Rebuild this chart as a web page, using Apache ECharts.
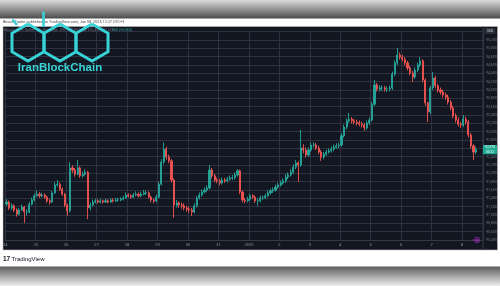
<!DOCTYPE html>
<html><head><meta charset="utf-8">
<script src="https://cdn.jsdelivr.net/npm/echarts@6/dist/echarts.min.js"></script>
<style>html,body{margin:0;padding:0;background:#fff;overflow:hidden}#c{width:500px;height:286px}</style>
</head><body><div id="c"></div>
<script>
// x tick labels (one per day, Dec 24 .. Jan 8)
const dayLabels = ['24','25','26','27','28','29','30','31','2025','2','3','4','5','6','7','8'];
const candleHours = 2; // each candle covers 2 hours
const firstOpen = 91260;
const closes = [
91310,91170,91220,91120,91020,91120,91190,91070,91070,91260,
91360,91460,91500,91460,91480,91430,91340,91310,91530,91720,
91740,91620,91500,91240,91100,92130,92080,91980,92130,91940,
91980,92030,91170,91240,91310,91340,91310,91340,91310,91340,
91310,91360,91340,91360,91360,91380,91410,91480,91460,91430,
91480,91500,91460,91500,91530,91530,91430,91360,91340,91430,
91740,92270,92580,92390,92300,91840,91240,91290,91240,91220,
91170,91140,91120,91070,91220,91410,91480,91550,91600,91650,
92080,91940,91840,91820,91770,91840,91820,91860,91890,91890,
91960,92060,91550,91360,91340,91380,91460,91430,91340,91340,
91410,91410,91460,91530,91580,91600,91670,91720,91770,91820,
91910,91960,92030,92150,92250,92200,92610,92560,92440,92560,
92680,92680,92610,92510,92390,92460,92510,92540,92580,92630,
92660,92680,92900,93110,93260,93300,93260,93230,93210,93180,
93160,93090,93210,93280,93660,94120,94020,94050,94050,94020,
94020,94050,94380,94650,94840,94790,94740,94650,94530,94410,
94310,94480,94600,94700,94240,93690,93470,94050,94290,94100,
94000,93950,93880,93830,93710,93570,93380,93280,93180,93160,
93300,93230,92920,92660,92510,92570];
const highs = [
91380,91350,91280,91260,91160,91170,91250,91220,91140,91310,
91420,91520,91580,91550,91530,91520,91460,91390,91580,91790,
91840,91780,91660,91530,91270,92270,92200,92130,92320,92170,
92040,92100,92060,91300,91370,91390,91380,91390,91370,91390,
91380,91400,91400,91410,91420,91430,91460,91540,91520,91500,
91530,91570,91540,91560,91600,91590,91570,91460,91400,91490,
91800,92340,92740,92640,92450,92340,91880,91360,91330,91300,
91280,91220,91200,91170,91280,91460,91540,91610,91660,91710,
92200,92130,91990,91900,91870,91900,91890,91920,91950,91960,
92020,92100,92090,91590,91410,91440,91510,91500,91470,91400,
91460,91470,91510,91590,91630,91660,91730,91780,91830,91880,
91980,92020,92100,92220,92320,92300,93040,92700,92620,92620,
92740,92750,92730,92660,92560,92520,92570,92600,92640,92690,
92720,92740,92960,93170,93320,93450,93350,93310,93290,93270,
93240,93210,93270,93340,93720,94240,94170,94110,94110,94100,
94090,94110,94440,94710,95010,94900,94850,94790,94700,94580,
94460,94540,94660,94790,94740,94280,93720,94100,94430,94340,
94150,94060,94010,93940,93890,93760,93620,93440,93340,93240,
93400,93360,93280,92970,92700,92640];
const lows = [
91220,91120,91120,91070,90960,90990,91100,90810,90990,91040,
91230,91330,91430,91410,91420,91390,91290,91250,91290,91500,
91680,91580,91460,91190,90980,91060,92010,91920,91950,91890,
91900,91950,90900,91110,91200,91280,91270,91280,91270,91290,
91280,91290,91300,91310,91320,91330,91350,91390,91420,91390,
91400,91450,91420,91430,91470,91480,91390,91300,91280,91300,
91400,91710,92220,92330,92240,91780,90930,91180,91170,91150,
91110,91080,91050,90980,91040,91180,91370,91440,91520,91560,
91610,91880,91790,91760,91710,91730,91770,91780,91820,91840,
91850,91920,91500,91300,91280,91300,91340,91380,91290,91220,
91300,91360,91380,91420,91490,91530,91560,91630,91680,91730,
91770,91860,91920,91990,92100,91790,92160,92480,92380,92390,
92510,92620,92560,92460,92300,92340,92420,92470,92500,92530,
92590,92600,92640,92860,93060,93220,93200,93180,93150,93130,
93100,93020,93050,93160,93240,93620,93960,93970,93980,93960,
93950,93970,94000,94330,94600,94730,94680,94590,94470,94350,
94190,94260,94430,94550,94180,93620,93230,93420,94000,94040,
93940,93890,93820,93770,93650,93510,93320,93220,93120,93090,
93110,93170,92860,92600,92320,92460];
const yMin = 90400, yMax = 95400, yStep = 200;
const xMaxHours = 376.5;
const titleText = 'BitcoinTrader published on TradingView.com, Jan 08, 2025 12:27 UTC+3';
const legendText = 'Bitcoin / U.S. Dollar \u00b7 2h \u00b7 Bitstamp   O92,510 H92,640 L92,460 C92,570';
const changeText = '+60 (+0.06%)';
const countdown = '00:32';

const candles = closes.map((c, i) => [candleHours * i + candleHours / 2, i ? closes[i - 1] : firstOpen, c, lows[i], highs[i]]);
const fmt = v => v.toLocaleString('en-US');

const chart = echarts.init(document.getElementById('c'), null, {renderer: 'canvas'});
const UP = '#26a69a', DOWN = '#ef5350', GRIDC = '#2e3240';
chart.setOption({
  backgroundColor: '#ffffff',
  animation: false,
  grid: {left: 4.5, right: 17, top: 31.67, bottom: 46},
  xAxis: {
    type: 'value', min: 0, max: xMaxHours, interval: 24,
    axisLine: {show: true, lineStyle: {color: '#363a45', width: 1}},
    axisTick: {show: false},
    axisLabel: {
      show: true, margin: 3, fontSize: 4, color: '#8a8e99', fontFamily: 'Roboto',
      showMaxLabel: false,
      formatter: v => (v % 24 === 0 && dayLabels[v / 24] !== undefined) ? dayLabels[v / 24] : ''
    },
    splitLine: {show: true, lineStyle: {color: GRIDC, width: 1}}
  },
  yAxis: {
    type: 'value', position: 'right', min: yMin, max: yMax, interval: yStep,
    axisLine: {show: false}, axisTick: {show: false},
    axisLabel: {
      margin: 3, fontSize: 3.6, color: '#6f737e', fontFamily: 'Roboto',
      formatter: v => v >= yMax ? '' : fmt(v)
    },
    splitLine: {show: true, lineStyle: {color: GRIDC, width: 1}}
  },
  series: [{
    type: 'candlestick', data: candles, barWidth: 1.6,
    itemStyle: {color: UP, color0: DOWN, borderColor: UP, borderColor0: DOWN, borderWidth: 0.9}
  }]
});

const lastClose = closes[closes.length - 1];
const tagY = chart.convertToPixel({yAxisIndex: 0}, lastClose);

function hex(cx, cy, r) {
  const pts = [];
  for (let k = 0; k <= 6; k++) {
    const a = (-90 + 60 * k) * Math.PI / 180;
    pts.push([cx + r * Math.cos(a), cy + r * Math.sin(a)]);
  }
  return pts;
}
const LOGO = '#38d3d6';
const g = [
  {type: 'rect', z: -100, shape: {x: 0, y: 0, width: 500, height: 18.5},
   style: {fill: {type: 'linear', x: 0, y: 0, x2: 0, y2: 1, colorStops: [{offset: 0, color: '#dcdcdc'}, {offset: 1, color: '#4b4b4b'}]}}},
  {type: 'rect', z: -100, shape: {x: 0, y: 266.5, width: 500, height: 19.5},
   style: {fill: {type: 'linear', x: 0, y: 0, x2: 0, y2: 1, colorStops: [{offset: 0, color: '#5c5c5c'}, {offset: 1, color: '#eeeeee'}]}}},
  {type: 'rect', z: -100, shape: {x: 3, y: 26.5, width: 494.5, height: 223.5},
   style: {fill: '#131722', stroke: '#b9b9b9', lineWidth: 0.6}},
  {type: 'line', z: 5, shape: {x1: 483, y1: 26.5, x2: 483, y2: 250}, style: {stroke: '#363a45', lineWidth: 1}},
  {type: 'text', z: 5, x: 3, y: 22.5, style: {text: titleText, fontSize: 3.8, fill: '#4a4a4a', fontFamily: 'Roboto', verticalAlign: 'middle'}},
  {type: 'text', z: 5, x: 4, y: 30.5, style: {text: legendText, fontSize: 3.5, fill: '#6f737e', fontFamily: 'Roboto', verticalAlign: 'middle'}},
  {type: 'text', z: 5, x: 112, y: 30.5, style: {text: changeText, fontSize: 3.5, fill: UP, fontFamily: 'Roboto', verticalAlign: 'middle'}},
  {type: 'rect', z: 5, shape: {x: 484.5, y: 28, width: 11, height: 6, r: 0.8}, style: {fill: '#2a2e39'}},
  {type: 'text', z: 6, x: 490, y: 31, style: {text: 'USD', fontSize: 3.2, fill: '#d1d4dc', fontFamily: 'Roboto', align: 'center', verticalAlign: 'middle'}},
  {type: 'rect', z: 5, shape: {x: 483, y: tagY - 4.6, width: 14, height: 9.2, r: 0.6}, style: {fill: '#22ab94'}},
  {type: 'text', z: 6, x: 490, y: tagY - 2, style: {text: fmt(lastClose), fontSize: 3.2, fill: '#ffffff', fontFamily: 'Roboto', align: 'center', verticalAlign: 'middle'}},
  {type: 'text', z: 6, x: 490, y: tagY + 2.2, style: {text: countdown, fontSize: 3.2, fill: '#e8f6f3', fontFamily: 'Roboto', align: 'center', verticalAlign: 'middle'}},
  {type: 'circle', z: 6, shape: {cx: 477, cy: 240, r: 2.6}, style: {fill: 'none', stroke: '#9c27b0', lineWidth: 0.9}},
  {type: 'circle', z: 6, shape: {cx: 477, cy: 240, r: 0.9}, style: {fill: '#e040fb'}},
  {type: 'line', z: 6, shape: {x1: 472.5, y1: 240, x2: 474.5, y2: 240}, style: {stroke: '#9c27b0', lineWidth: 0.8}},
  // TradingView footer
  {type: 'text', z: 6, x: 3, y: 259, style: {text: '17', fontSize: 6.5, fontWeight: 'bold', fill: '#131722', fontFamily: 'Liberation Sans', verticalAlign: 'middle'}},
  {type: 'text', z: 6, x: 11.5, y: 259, style: {text: 'TradingView', fontSize: 6, fill: '#131722', fontFamily: 'Liberation Sans', verticalAlign: 'middle'}},
  // logo overlay
  {type: 'polyline', z: 20, shape: {points: hex(28, 42.5, 18.5)}, style: {stroke: LOGO, lineWidth: 3, fill: 'none', lineJoin: 'miter'}},
  {type: 'polyline', z: 20, shape: {points: hex(60, 42.5, 18.5)}, style: {stroke: LOGO, lineWidth: 3, fill: 'none', lineJoin: 'miter'}},
  {type: 'polyline', z: 20, shape: {points: hex(92, 42.5, 18.5)}, style: {stroke: LOGO, lineWidth: 3, fill: 'none', lineJoin: 'miter'}},
  {type: 'line', z: 20, shape: {x1: 43.5, y1: 11.5, x2: 43.5, y2: 27}, style: {stroke: LOGO, lineWidth: 2.6}},
  {type: 'line', z: 20, shape: {x1: 12.5, y1: 19.5, x2: 17, y2: 25}, style: {stroke: LOGO, lineWidth: 2.4}},
  {type: 'text', z: 20, x: 60, y: 68, style: {text: 'IranBlockChain', fontSize: 11.5, fontWeight: 'bold', fill: LOGO, fontFamily: 'Liberation Sans', align: 'center', verticalAlign: 'middle'}}
];
chart.setOption({graphic: g});
</script></body></html>
